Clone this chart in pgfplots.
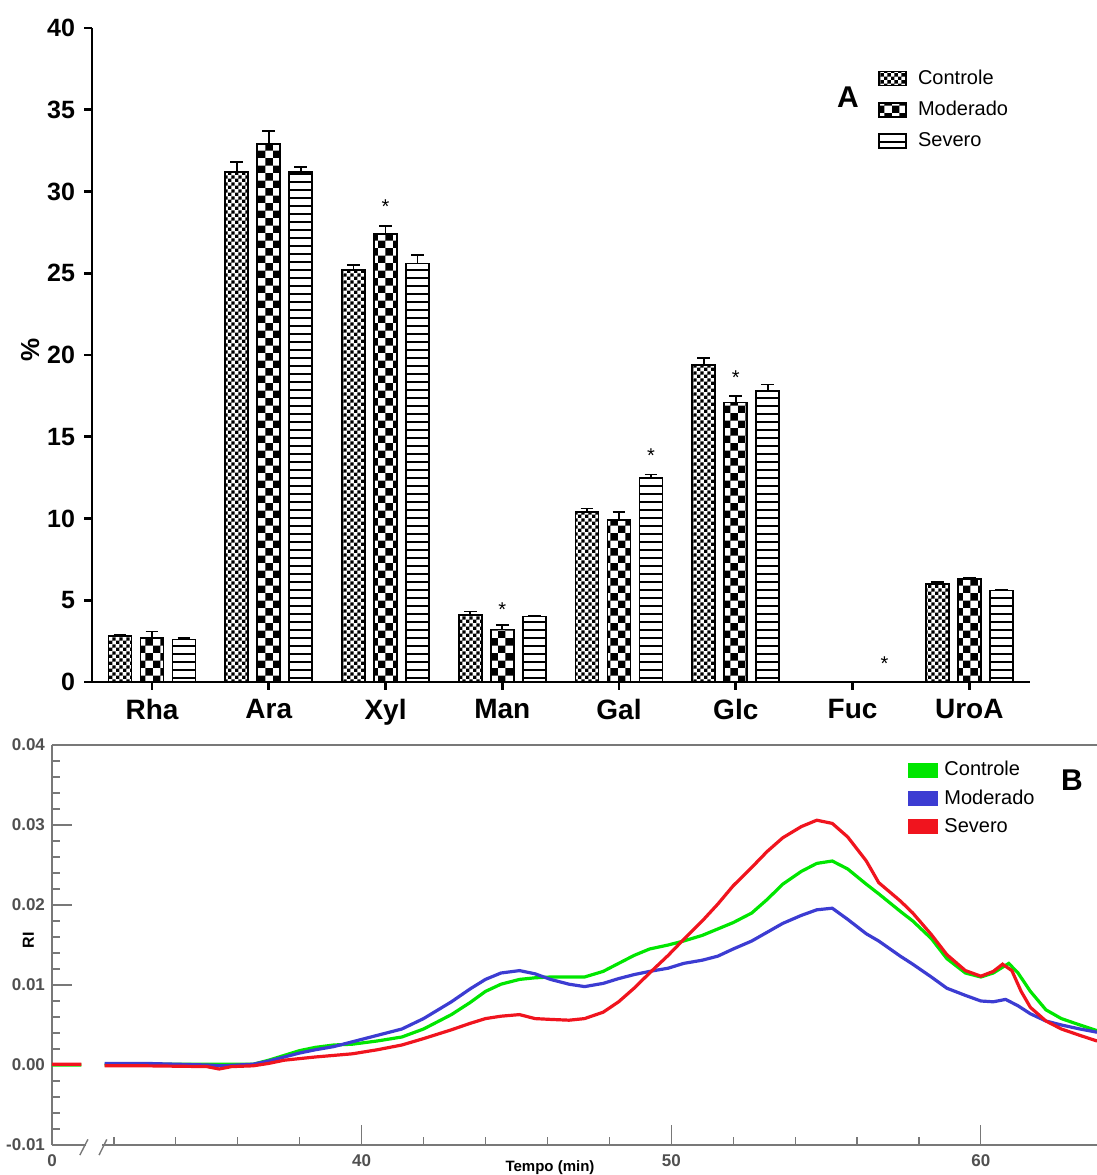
\documentclass[border=0pt]{standalone}
\usepackage{pgfplots}
\pgfplotsset{compat=1.18}
\usetikzlibrary{patterns}
\usepackage{fontspec}
\setmainfont{Liberation Sans}

\pgfdeclarepatternformonly{finecheck}{\pgfqpoint{0pt}{0pt}}{\pgfqpoint{3.4pt}{3.4pt}}{\pgfqpoint{3.4pt}{3.4pt}}{%
  \pgfpathrectangle{\pgfqpoint{0pt}{0pt}}{\pgfqpoint{1.7pt}{1.7pt}}%
  \pgfpathrectangle{\pgfqpoint{1.7pt}{1.7pt}}{\pgfqpoint{1.7pt}{1.7pt}}%
  \pgfusepath{fill}}
\pgfdeclarepatternformonly{bigcheck}{\pgfqpoint{0pt}{0pt}}{\pgfqpoint{7.7pt}{7.7pt}}{\pgfqpoint{7.7pt}{7.7pt}}{%
  \pgfpathrectangle{\pgfqpoint{0pt}{0pt}}{\pgfqpoint{3.85pt}{3.85pt}}%
  \pgfpathrectangle{\pgfqpoint{3.85pt}{3.85pt}}{\pgfqpoint{3.85pt}{3.85pt}}%
  \pgfusepath{fill}}
\pgfdeclarepatternformonly{hlines}{\pgfqpoint{-1pt}{0pt}}{\pgfqpoint{41pt}{4pt}}{\pgfqpoint{40pt}{4pt}}{%
  \pgfpathrectangle{\pgfqpoint{-1pt}{0pt}}{\pgfqpoint{42pt}{0.9pt}}%
  \pgfusepath{fill}}

\definecolor{cgreen}{RGB}{0,230,0}
\definecolor{cblue}{RGB}{60,60,210}
\definecolor{cred}{RGB}{240,20,30}
\definecolor{axgray}{RGB}{120,120,120}
\definecolor{lblgray}{RGB}{80,80,80}

\pgfplotsset{
  legbox/.style={legend image code/.code={\draw[##1] (0pt,-3.5pt) rectangle (13.5pt,3.5pt);}},
  legline/.style={legend image code/.code={\fill[##1] (0pt,-3pt) rectangle (13.5pt,3pt);}},
  barstyle/.style={ybar, bar width=0.197, bar shift=0pt, draw=black, line width=0.8pt,
    error bars/y dir=plus, error bars/y explicit,
    error bars/error bar style={line width=0.8pt, black},
    error bars/error mark options={rotate=90, mark size=3.2pt, line width=0.8pt, black}},
}

\begin{document}
\begin{tikzpicture}
\useasboundingbox (0,0) rectangle (548.5pt,587.5pt);

% ---------------- Panel A ----------------
\begin{axis}[
  at={(46pt,246.5pt)}, anchor=south west,
  scale only axis, width=469pt, height=327pt,
  xmin=-0.514, xmax=7.52, ymin=0, ymax=40,
  axis lines=left, axis line style={-, line width=1.4pt, black},
  clip=false,
  xtick={0,1,2,3,4,5,6,7},
  xticklabels={Rha,Ara,Xyl,Man,Gal,Glc,Fuc,UroA},
  ytick={0,5,...,40},
  tick align=outside, major tick length=4pt,
  tick style={line width=1.4pt, black},
  x tick label style={font=\fontsize{14}{16}\selectfont\bfseries, yshift=-1pt},
  y tick label style={font=\fontsize{12.5}{14}\selectfont\bfseries, xshift=-1pt},
  /pgf/number format/assume math mode=true,
  ylabel={\%},
  ylabel style={font=\fontsize{13}{15}\selectfont\bfseries, at={(axis description cs:-0.066,0.508)}, anchor=center},
  legend style={draw=none, fill=none, at={(axis description cs:0.838,0.943)}, anchor=north west,
    font=\fontsize{10}{12}\selectfont, row sep=3pt, column sep=3.5pt, inner sep=0pt, cells={anchor=west}},
]
% Controle (bars at category - 0.274)
\addplot[barstyle, legbox, pattern=finecheck] coordinates {
  (-0.274,2.8) +- (0,0.1)
  (0.726,31.2) +- (0,0.6)
  (1.726,25.2) +- (0,0.3)
  (2.726,4.1) +- (0,0.2)
  (3.726,10.4) +- (0,0.2)
  (4.726,19.4) +- (0,0.4)
  (6.726,6.0) +- (0,0.1)
};
\addlegendentry{Controle}
% Moderado (bars at category)
\addplot[barstyle, legbox, pattern=bigcheck] coordinates {
  (0,2.7) +- (0,0.4)
  (1,32.9) +- (0,0.8)
  (2,27.4) +- (0,0.5)
  (3,3.2) +- (0,0.3)
  (4,9.9) +- (0,0.5)
  (5,17.1) +- (0,0.4)
  (7,6.3) +- (0,0.1)
};
\addlegendentry{Moderado}
% Severo (bars at category + 0.274)
\addplot[barstyle, legbox, pattern=hlines] coordinates {
  (0.274,2.6) +- (0,0.1)
  (1.274,31.2) +- (0,0.3)
  (2.274,25.6) +- (0,0.5)
  (3.274,4.0) +- (0,0.05)
  (4.274,12.5) +- (0,0.2)
  (5.274,17.8) +- (0,0.4)
  (7.274,5.6) +- (0,0.05)
};
\addlegendentry{Severo}
\addplot[draw=none, forget plot, nodes near coords, point meta=explicit symbolic,
  every node near coord/.append style={anchor=center, font=\fontsize{10}{12}\selectfont}]
  coordinates {
  (2,29.05) [*]
  (3,4.45) [*]
  (4.274,13.85) [*]
  (5,18.6) [*]
  (6.274,1.15) [*]
};
\node[font=\fontsize{15}{17}\selectfont\bfseries] at (axis description cs:0.806,0.894) {A};
\end{axis}

% ---------------- Panel B ----------------
\begin{axis}[
  at={(26pt,15pt)}, anchor=south west,
  scale only axis, width=522.5pt, height=200pt,
  xmin=30, xmax=63.75, ymin=-0.01, ymax=0.04,
  axis x line=bottom, axis y line=left,
  axis line style={-, line width=0.75pt, axgray},
  clip=false, unbounded coords=jump,
  xtick={30,40,50,60}, xticklabels={0,40,50,60},
  minor x tick num=4,
  ytick={-0.01,0,0.01,0.02,0.03,0.04},
  minor y tick num=4,
  scaled y ticks=false,
  yticklabel style={/pgf/number format/.cd, fixed, fixed zerofill, precision=2},
  tick align=inside, major tick length=10pt, minor tick length=4pt,
  tick style={line width=0.6pt, axgray},
  tick label style={font=\fontsize{8.5}{10}\selectfont\bfseries, text=lblgray},
  x tick label style={yshift=-1.5pt},
  /pgf/number format/assume math mode=true,
  xlabel={Tempo (min)},
  xlabel style={font=\fontsize{7.5}{9}\selectfont\bfseries, at={(axis description cs:0.4766,0)}, anchor=north, yshift=-4.5pt},
  ylabel={RI},
  ylabel style={font=\fontsize{8}{10}\selectfont\bfseries, at={(axis description cs:-0.0225,0.5125)}, anchor=center},
  legend style={draw=none, fill=none, at={(axis description cs:0.819,0.97)}, anchor=north west,
    font=\fontsize{10}{12}\selectfont, row sep=1.5pt, column sep=1pt, inner sep=0pt, cells={anchor=west}},
]
\addplot[cgreen, line width=1.6pt, legline] coordinates {
(30,0) (30.95,0) (31.3,nan)
(31.7,0.0000) (33,0.0001) (35,0.0001) (36.5,0.0001) (37,0.0006) (37.5,0.0012) (38,0.0018)
(38.5,0.0022) (39.1,0.0025) (39.7,0.0026) (40.5,0.0030) (41.3,0.0035) (42,0.0045)
(42.9,0.0063) (43.5,0.0078) (44.0,0.0092) (44.5,0.0101) (45.1,0.0107) (45.6,0.0109)
(46.1,0.0110) (46.7,0.0110) (47.2,0.0110) (47.8,0.0117) (48.3,0.0127) (48.8,0.0137)
(49.3,0.0145) (49.9,0.0150) (50.4,0.0155) (51.0,0.0162) (51.5,0.0170) (52.0,0.0178)
(52.6,0.0190) (53.1,0.0207) (53.6,0.0226) (54.2,0.0242) (54.7,0.0252) (55.2,0.0255)
(55.7,0.0245) (56.3,0.0226) (56.7,0.0214) (57.4,0.0192) (57.8,0.0180) (58.4,0.0158)
(58.9,0.0133) (59.5,0.0115) (60.0,0.0110) (60.4,0.0115) (60.9,0.0127) (61.2,0.0115)
(61.6,0.0092) (62.1,0.0069) (62.6,0.0058) (63.2,0.0050) (63.75,0.0043)
};
\addlegendentry{Controle}
\addplot[cblue, line width=1.6pt, legline] coordinates {
(31.7,0.0002) (33,0.0002) (35,0.0000) (35.5,-0.0001) (36.5,0.0001) (37,0.0005) (37.5,0.0010)
(38,0.0015) (38.5,0.0019) (39.1,0.0023) (39.7,0.0029) (40.5,0.0037) (41.3,0.0045)
(42,0.0058) (42.9,0.0079) (43.5,0.0095) (44.0,0.0107) (44.5,0.0115) (45.1,0.0118)
(45.6,0.0114) (46.1,0.0107) (46.7,0.0101) (47.2,0.0098) (47.8,0.0102) (48.3,0.0108)
(48.8,0.0113) (49.3,0.0117) (49.9,0.0121) (50.4,0.0127) (51.0,0.0131) (51.5,0.0136)
(52.0,0.0145) (52.6,0.0155) (53.1,0.0166) (53.6,0.0177) (54.2,0.0187) (54.7,0.0194)
(55.2,0.0196) (55.7,0.0182) (56.3,0.0164) (56.7,0.0155) (57.4,0.0136) (57.8,0.0126)
(58.4,0.0110) (58.9,0.0096) (59.5,0.0087) (60.0,0.0080) (60.4,0.0079) (60.8,0.0082)
(61.2,0.0074) (61.6,0.0064) (62.1,0.0055) (62.6,0.0050) (63.2,0.0045) (63.75,0.0041)
};
\addlegendentry{Moderado}
\addplot[cred, line width=1.6pt, legline] coordinates {
(30,0.0001) (30.95,0.0001) (31.3,nan)
(31.7,-0.0001) (33,-0.0001) (35,-0.0002) (35.4,-0.0005) (35.8,-0.0002) (36.5,-0.0001)
(37,0.0002) (37.5,0.0006) (38,0.0008) (38.5,0.0010) (39.1,0.0012) (39.7,0.0014)
(40.5,0.0019) (41.3,0.0025) (42,0.0033) (42.9,0.0044) (43.5,0.0052) (44.0,0.0058)
(44.5,0.0061) (45.1,0.0063) (45.6,0.0058) (46.1,0.0057) (46.7,0.0056) (47.2,0.0058)
(47.8,0.0066) (48.3,0.0079) (48.8,0.0096) (49.3,0.0115) (49.9,0.0137) (50.4,0.0157)
(51.0,0.0180) (51.5,0.0201) (52.0,0.0224) (52.6,0.0247) (53.1,0.0267) (53.6,0.0284)
(54.2,0.0298) (54.7,0.0306) (55.2,0.0302) (55.7,0.0285) (56.3,0.0255) (56.7,0.0228)
(57.4,0.0205) (57.8,0.0190) (58.4,0.0163) (58.9,0.0138) (59.5,0.0118) (60.0,0.0111)
(60.4,0.0117) (60.7,0.0126) (61.0,0.0118) (61.3,0.0092) (61.6,0.0072) (62.1,0.0055)
(62.6,0.0045) (63.2,0.0037) (63.75,0.0030)
};
\addlegendentry{Severo}
% top frame line and axis break
\draw[axgray, line width=0.75pt] (rel axis cs:0,1) -- (rel axis cs:1,1);
\fill[white] (axis cs:31.1,-0.0104) rectangle (axis cs:31.6,-0.0096);
\draw[axgray, line width=0.7pt] (axis cs:30.9,-0.01126) -- (axis cs:31.16,-0.0093);
\draw[axgray, line width=0.7pt] (axis cs:31.52,-0.01126) -- (axis cs:31.77,-0.0093);
\node[font=\fontsize{15}{17}\selectfont\bfseries] at (axis description cs:0.976,0.9125) {B};
\end{axis}
\end{tikzpicture}
\end{document}
